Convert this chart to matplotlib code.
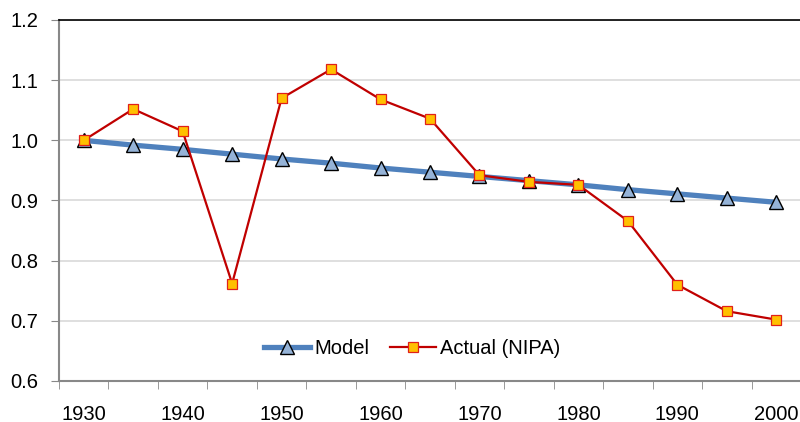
import numpy as np
import matplotlib.pyplot as plt

plt.rc('font', family=['Liberation Sans', 'DejaVu Sans'])

years  = [1930, 1935, 1940, 1945, 1950, 1955, 1960, 1965, 1970, 1975, 1980, 1985, 1990, 1995, 2000]
model  = [1.000, 0.992, 0.985, 0.977, 0.969, 0.962, 0.954, 0.947, 0.940, 0.933, 0.926, 0.918, 0.911, 0.904, 0.897]
actual = [1.000, 1.052, 1.015, 0.762, 1.070, 1.118, 1.068, 1.036, 0.942, 0.931, 0.926, 0.866, 0.760, 0.716, 0.702]
yticks = [0.6, 0.7, 0.8, 0.9, 1.0, 1.1, 1.2]

fig = plt.figure(figsize=(8, 4.22), dpi=100)
ax = fig.add_axes([59/800, 1-381/422, 742/800, 361/422])

x = np.arange(len(years))
ax.plot(x, model, color='#4F81BD', lw=3.8, marker='^', ms=10,
        mfc='#95B3D7', mec='black', mew=1.0, label='Model', zorder=3)
ax.plot(x, actual, color='#C00000', lw=1.6, marker='s', ms=6.5,
        mfc='#FFC000', mec='#E0201A', mew=0.9, label='Actual (NIPA)', zorder=4)

ax.set_xlim(-0.5, len(years)-0.5)
ax.set_ylim(0.6, 1.2)
ax.set_yticks(yticks)
ax.set_yticklabels(['%.1f' % v for v in yticks], fontsize=14.5)
ax.set_xticks(x[::2])
ax.set_xticklabels([str(y) for y in years[::2]], fontsize=14.5)
ax.set_xticks(np.arange(-0.5, len(years), 1), minor=True)
ax.tick_params(axis='x', which='major', length=0, pad=17)
ax.tick_params(axis='x', which='minor', length=6, color='#888888', direction='out')
ax.tick_params(axis='y', length=6, color='#888888', direction='out', pad=9)

ax.grid(axis='y', color='#D9D9D9', lw=1.2)
ax.set_axisbelow(True)
for s in ['left', 'bottom']:
    ax.spines[s].set_color('#888888')
    ax.spines[s].set_linewidth(1.5)
ax.spines['top'].set_color('black')
ax.spines['top'].set_linewidth(1.2)
ax.spines['right'].set_visible(False)

ax.legend(loc='center', bbox_to_anchor=(0.476, 0.091), ncol=2, frameon=False,
          fontsize=14.5, handlelength=2.3, handletextpad=0.2, columnspacing=1.0)

# title is clipped by the top edge in the reference
fig.text(0.52, 0.997, 'Model and Actual', ha='center', va='bottom',
         fontsize=14, color='#888888')

fig.savefig('out.png', dpi=100)
